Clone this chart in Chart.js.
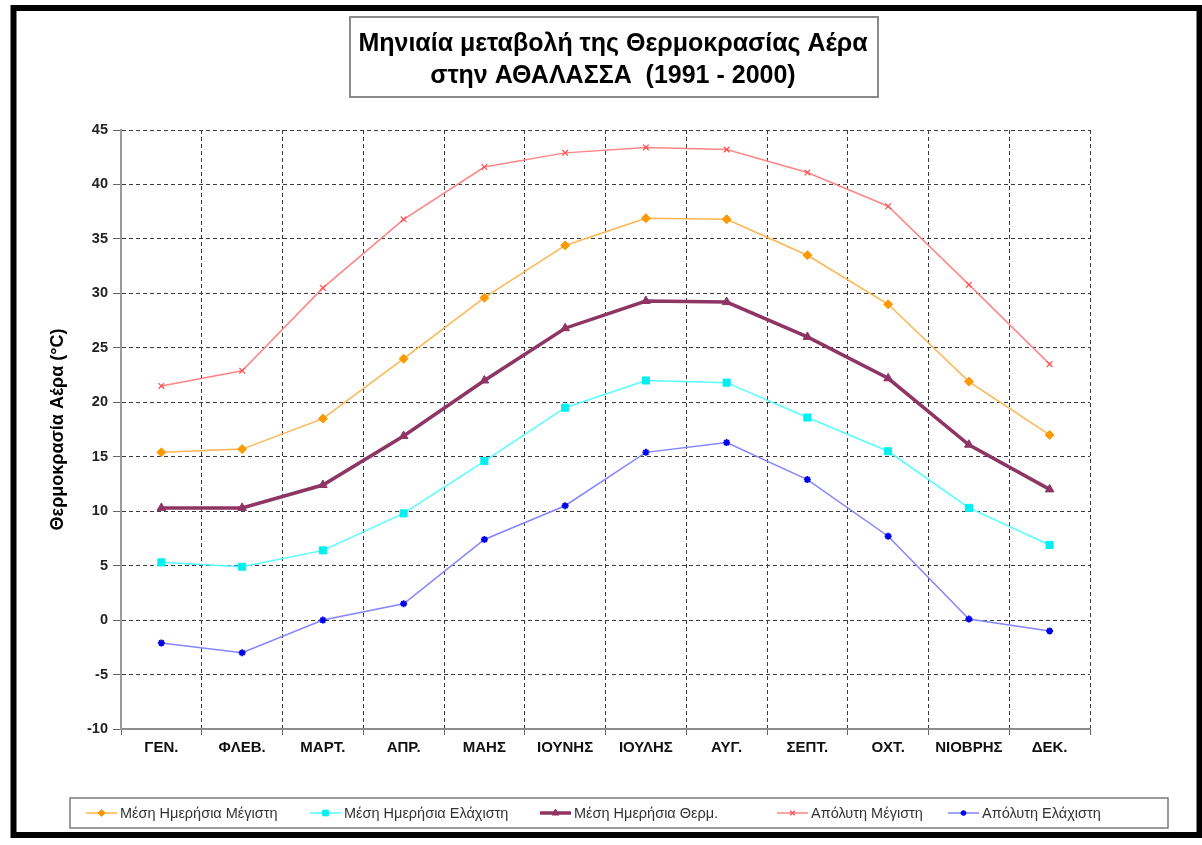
<!DOCTYPE html>
<html><head><meta charset="utf-8">
<script src="https://cdn.jsdelivr.net/npm/chart.js@4.4.1/dist/chart.umd.min.js"></script>
<style>html,body{margin:0;padding:0;background:#fff;overflow:hidden}#wrap{width:1202px;height:845px;position:relative}</style>
</head><body><div id="wrap"><canvas id="c" width="1202" height="845"></canvas></div>
<script>
const months = ['ΓΕΝ.','ΦΛΕΒ.','ΜΑΡΤ.','ΑΠΡ.','ΜΑΗΣ','ΙΟΥΝΗΣ','ΙΟΥΛΗΣ','ΑΥΓ.','ΣΕΠΤ.','ΟΧΤ.','ΝΙΟΒΡΗΣ','ΔΕΚ.'];
const meanMax = [15.4, 15.7, 18.5, 24.0, 29.6, 34.4, 36.9, 36.8, 33.5, 29.0, 21.9, 17.0];
const meanMin = [5.3, 4.9, 6.4, 9.8, 14.6, 19.5, 22.0, 21.8, 18.6, 15.5, 10.3, 6.9];
const meanT = [10.3, 10.3, 12.4, 16.9, 22.0, 26.8, 29.3, 29.2, 26.0, 22.2, 16.1, 12.0];
const absMax = [21.5, 22.9, 30.5, 36.8, 41.6, 42.9, 43.4, 43.2, 41.1, 38.0, 30.8, 23.5];
const absMin = [-2.1, -3.0, 0.0, 1.5, 7.4, 10.5, 15.4, 16.3, 12.9, 7.7, 0.1, -1.0];
const seriesNames = ['Μέση Ημερήσια Μέγιστη','Μέση Ημερήσια Ελάχιστη','Μέση Ημερήσια Θερμ.','Απόλυτη Μέγιστη','Απόλυτη Ελάχιστη'];
const titleLines = ['Μηνιαία μεταβολή της Θερμοκρασίας Αέρα','στην ΑΘΑΛΑΣΣΑ  (1991 - 2000)'];
const yTitle = 'Θερμοκρασία Αέρα (°C)';
const yMin = -10, yMax = 45, yStep = 5;

const datasets = [
  {label: seriesNames[0], data: meanMax, borderColor:'#FFB551', backgroundColor:'#FF9900', pointBorderColor:'#FF9900', pointStyle:'rectRot', pointRadius:4.5, borderWidth:1.5, pointBorderWidth:1},
  {label: seriesNames[1], data: meanMin, borderColor:'#55FFFF', backgroundColor:'#00F0F0', pointBorderColor:'#00F0F0', pointStyle:'rect', pointRadius:5, borderWidth:1.5, pointBorderWidth:1},
  {label: seriesNames[2], data: meanT, borderColor:'#8E3563', backgroundColor:'#8E3563', pointBorderColor:'#8E3563', pointStyle:'triangle', pointRadius:5, borderWidth:3.5, pointBorderWidth:1},
  {label: seriesNames[3], data: absMax, borderColor:'#FF8585', backgroundColor:'#FF5050', pointBorderColor:'#FF4A4A', pointStyle:'crossRot', pointRadius:4, borderWidth:1.5, pointBorderWidth:1.2},
  {label: seriesNames[4], data: absMin, borderColor:'#8585FF', backgroundColor:'#0000EE', pointBorderColor:'#0000EE', pointStyle:'star', pointRadius:3.5, borderWidth:1.5, pointBorderWidth:1.8}
];

const decor = {
  id:'decor',
  beforeDraw(chart){
    const ctx = chart.ctx;
    ctx.save(); ctx.fillStyle='#fff'; ctx.fillRect(0,0,chart.width,chart.height); ctx.restore();
  },
  afterDraw(chart){
    const ctx = chart.ctx;
    ctx.save();
    ctx.strokeStyle='#000'; ctx.lineWidth=6; ctx.setLineDash([]);
    ctx.strokeRect(13.5, 8, 1186, 827);
    ctx.strokeStyle='#8a8a8a'; ctx.lineWidth=2;
    ctx.strokeRect(350, 17, 528, 80);
    ctx.fillStyle='#000'; ctx.font='bold 25px "Liberation Sans", Arial, sans-serif';
    ctx.textAlign='center'; ctx.textBaseline='middle';
    ctx.fillText(titleLines[0], 613, 44);
    ctx.fillText(titleLines[1], 613, 76);
    ctx.strokeStyle='#7a7a7a'; ctx.lineWidth=1.5;
    ctx.strokeRect(70, 798, 1098, 30);
    const starts=[86, 310, 540, 777, 948];
    const ly=813;
    ctx.font='14.5px "Liberation Sans", Arial, sans-serif';
    ctx.textAlign='left';
    chart.data.datasets.forEach((ds,i)=>{
      const x0=starts[i];
      ctx.strokeStyle=ds.borderColor; ctx.lineWidth=ds.borderWidth;
      ctx.beginPath(); ctx.moveTo(x0, ly); ctx.lineTo(x0+31, ly); ctx.stroke();
      ctx.fillStyle=ds.backgroundColor; ctx.strokeStyle=ds.pointBorderColor; ctx.lineWidth=ds.pointBorderWidth;
      Chart.helpers.drawPoint(ctx, {pointStyle: ds.pointStyle, radius: ds.pointRadius*0.8, rotation:0, borderWidth: ds.pointBorderWidth}, x0+15.5, ly);
      ctx.fillStyle='#333';
      ctx.fillText(ds.label, x0+34, ly+1);
    });
    ctx.restore();
  }
};

new Chart(document.getElementById('c'), {
  type:'line',
  data:{labels: months, datasets},
  options:{
    responsive:false, animation:false, devicePixelRatio:1,
    layout:{padding:{left:47, top:130, right:112, bottom:76}},
    plugins:{legend:{display:false}, title:{display:false}, tooltip:{enabled:false}},
    elements:{line:{tension:0}},
    scales:{
      x:{
        offset:true,
        grid:{offset:true, color:'#3a3a3a', lineWidth:1, tickLength:6, tickColor:'#666', tickBorderDash:[], drawOnChartArea:true},
        border:{display:true, color:'#8c8c8c', width:2, dash:[4,3]},
        ticks:{color:'#111', font:{family:'"Liberation Sans Narrow", "Liberation Sans", Arial', size:15, weight:'bold'}, padding:4, maxRotation:0, autoSkip:false},
        afterFit(s){ s.height = 40; }
      },
      y:{
        min:yMin, max:yMax,
        grid:{color:'#3a3a3a', lineWidth:1, tickLength:8, tickColor:'#666', tickBorderDash:[]},
        border:{display:true, color:'#9a9a9a', width:2, dash:[4,3]},
        ticks:{stepSize:yStep, color:'#222', font:{family:'"Liberation Sans", Arial', size:14.5, weight:'bold'}, padding:5},
        title:{display:true, text:yTitle, color:'#000', font:{family:'"Liberation Sans", Arial', size:18, weight:'bold'}, padding:{top:0,bottom:0}},
        afterFit(s){ s.width = 74; }
      }
    }
  },
  plugins:[decor]
});
</script></body></html>
